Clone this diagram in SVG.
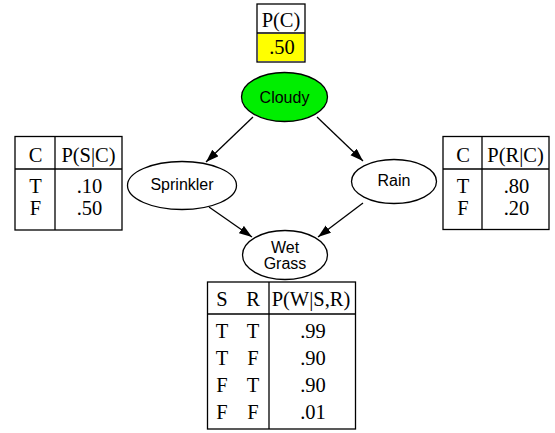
<svg xmlns="http://www.w3.org/2000/svg" width="555" height="433" viewBox="0 0 555 433">
<style>
.tb{fill:#fff;stroke:#000;stroke-width:1.3}
.ln{stroke:#000;stroke-width:1.3;fill:none}
.node{stroke:#000;stroke-width:1.3}
.t{font-family:"Liberation Serif","Times New Roman",serif;font-size:20.5px;fill:#000;text-anchor:middle}
.s{font-family:"Liberation Sans",Arial,sans-serif;font-size:16px;fill:#000;text-anchor:middle}
.e{stroke:#000;stroke-width:1.3;fill:none;marker-end:url(#ah)}
</style>
<defs>
<marker id="ah" markerWidth="14" markerHeight="10" refX="13" refY="4.5" orient="auto" markerUnits="userSpaceOnUse">
<path d="M0,0 L13,4.5 L0,9 z" fill="#000"/>
</marker>
</defs>
<rect width="555" height="433" fill="#fff"/>
<g id="edges">
<line class="e" x1="253" y1="117" x2="206" y2="162"/>
<line class="e" x1="317" y1="117" x2="363" y2="161"/>
<line class="e" x1="209" y1="207" x2="252" y2="237"/>
<line class="e" x1="363" y1="203" x2="318" y2="237"/>
</g>
<g id="cpt-cloudy">
<rect class="tb" x="257" y="4" width="48" height="58"/>
<rect x="258" y="34" width="46" height="27" fill="#ffff00"/>
<line class="ln" x1="257" y1="33" x2="305" y2="33"/>
<text class="t" x="281" y="27">P(C)</text>
<text class="t" x="282" y="54">.50</text>
</g>
<g id="cloudy">
<ellipse class="node" cx="284.5" cy="97" rx="43" ry="24.5" fill="#00ee00"/>
<text class="s" x="284.5" y="102.5">Cloudy</text>
</g>
<g id="sprinkler">
<ellipse class="node" cx="182" cy="185.5" rx="54.5" ry="24" fill="#fff"/>
<text class="s" x="182" y="190">Sprinkler</text>
</g>
<g id="rain">
<ellipse class="node" cx="394" cy="181.5" rx="42.5" ry="22" fill="#fff"/>
<text class="s" x="394" y="186">Rain</text>
</g>
<g id="wetgrass">
<ellipse class="node" cx="285" cy="255" rx="42.5" ry="24.5" fill="#fff"/>
<text class="s" x="285" y="253">Wet</text>
<text class="s" x="285" y="268.5">Grass</text>
</g>
<g id="cpt-sprinkler">
<rect class="tb" x="15" y="136.5" width="107" height="93.5"/>
<line class="ln" x1="15" y1="169" x2="122" y2="169"/>
<line class="ln" x1="55" y1="136.5" x2="55" y2="230"/>
<text class="t" x="35.5" y="161.5">C</text>
<text class="t" x="88.5" y="161.5">P(S|C)</text>
<text class="t" x="35.5" y="192.5">T</text>
<text class="t" x="89.5" y="192.5">.10</text>
<text class="t" x="35.5" y="214.5">F</text>
<text class="t" x="89.5" y="214.5">.50</text>
</g>
<g id="cpt-rain">
<rect class="tb" x="443" y="136.5" width="106" height="93"/>
<line class="ln" x1="443" y1="169" x2="549" y2="169"/>
<line class="ln" x1="482" y1="136.5" x2="482" y2="229.5"/>
<text class="t" x="463" y="161.5">C</text>
<text class="t" x="515.5" y="161.5">P(R|C)</text>
<text class="t" x="463" y="192.5">T</text>
<text class="t" x="516.5" y="192.5">.80</text>
<text class="t" x="463" y="214.5">F</text>
<text class="t" x="516.5" y="214.5">.20</text>
</g>
<g id="cpt-wetgrass">
<rect class="tb" x="207.5" y="282" width="148" height="147"/>
<line class="ln" x1="207.5" y1="314" x2="355.5" y2="314"/>
<line class="ln" x1="269" y1="282" x2="269" y2="429"/>
<text class="t" x="222" y="306">S</text>
<text class="t" x="253" y="306">R</text>
<text class="t" x="311" y="306">P(W|S,R)</text>
<text class="t" x="222" y="338">T</text><text class="t" x="253" y="338">T</text><text class="t" x="313" y="338">.99</text>
<text class="t" x="222" y="365">T</text><text class="t" x="253" y="365">F</text><text class="t" x="313" y="365">.90</text>
<text class="t" x="222" y="392">F</text><text class="t" x="253" y="392">T</text><text class="t" x="313" y="392">.90</text>
<text class="t" x="222" y="419">F</text><text class="t" x="253" y="419">F</text><text class="t" x="313" y="419">.01</text>
</g>
</svg>
